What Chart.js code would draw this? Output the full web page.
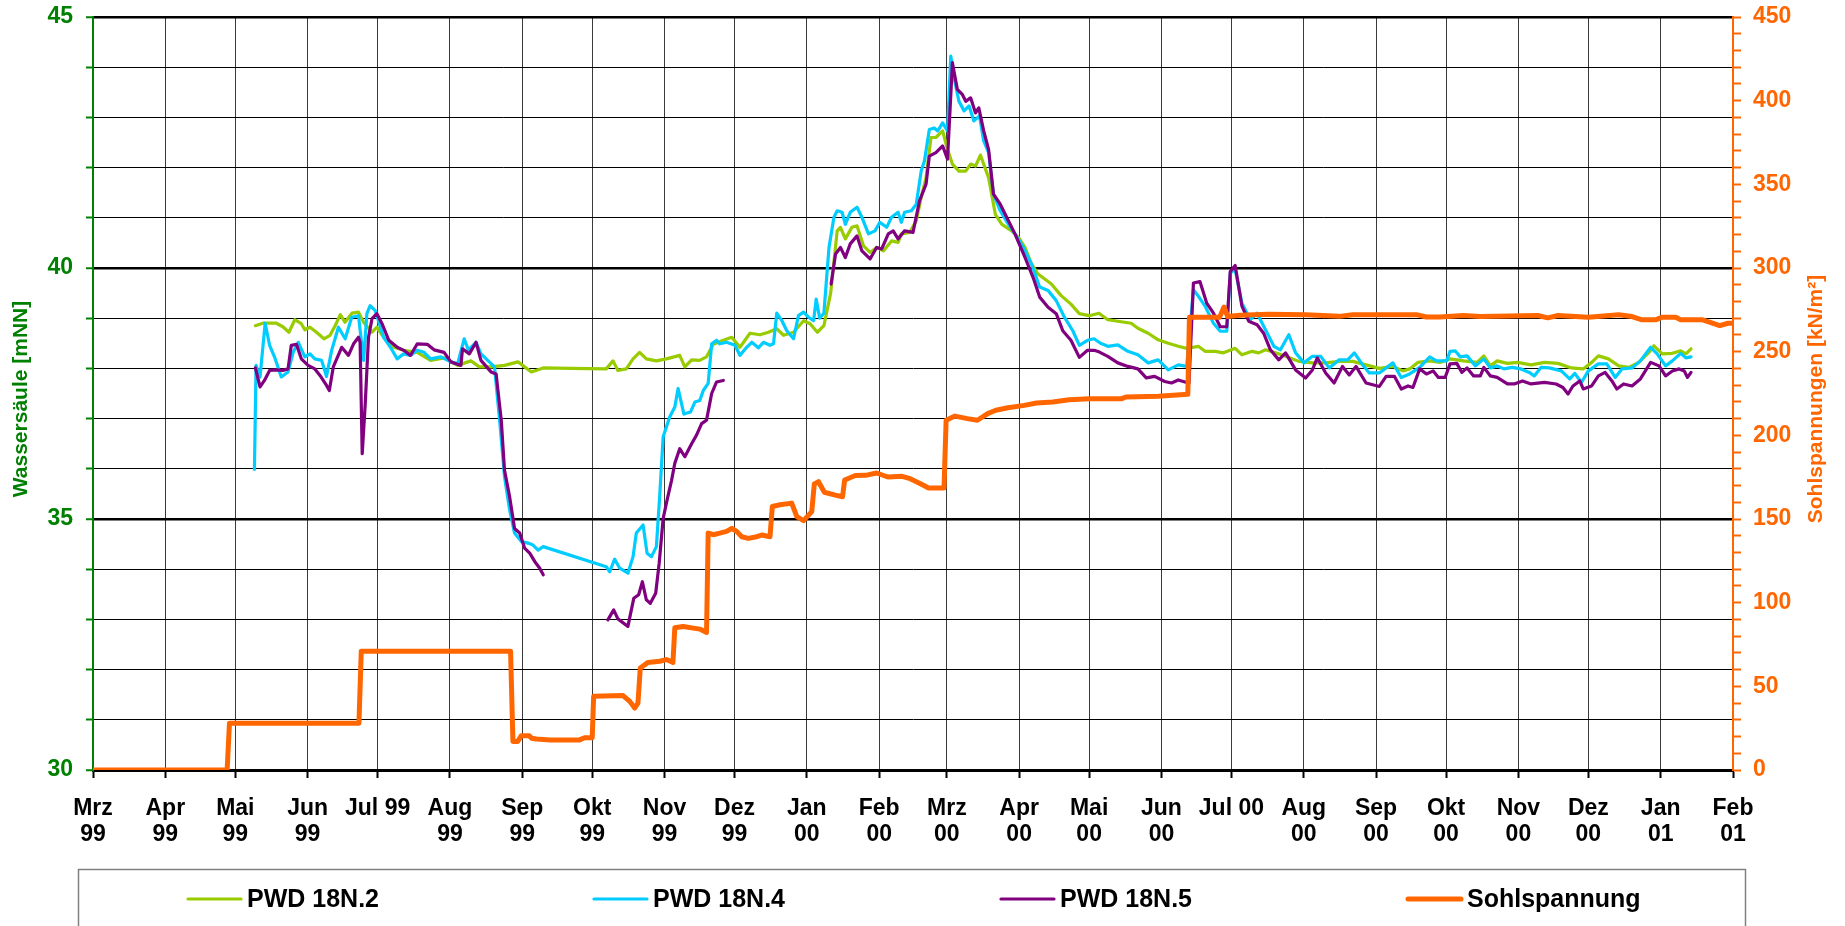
<!DOCTYPE html>
<html lang="de">
<head>
<meta charset="utf-8">
<title>PWD 18N – Wassersäule und Sohlspannung</title>
<script src="https://cdn.jsdelivr.net/npm/chart.js@4.4.1/dist/chart.umd.min.js"></script>
<style>
  html, body { margin:0; padding:0; background:#fff; }
  #wrap { width:1845px; height:926px; position:relative; }
</style>
</head>
<body>
<div id="wrap"><canvas id="chart"></canvas></div>
<script>
// x = Tage seit 1. März 1999
const monthStarts = [0,31,61,92,122,153,184,214,245,275,306,337,366,397,427,458,488,519,550,580,611,641,672,703];
const monthLabels = [['Mrz','99'],['Apr','99'],['Mai','99'],['Jun','99'],'Jul 99',['Aug','99'],['Sep','99'],['Okt','99'],
  ['Nov','99'],['Dez','99'],['Jan','00'],['Feb','00'],['Mrz','00'],['Apr','00'],['Mai','00'],['Jun','00'],'Jul 00',
  ['Aug','00'],['Sep','00'],['Okt','00'],['Nov','00'],['Dez','00'],['Jan','01'],['Feb','01']];

const seriesNames = ['PWD 18N.2', 'PWD 18N.4', 'PWD 18N.5', 'Sohlspannung'];
const leftTitle = 'Wassersäule [mNN]';
const rightTitle = 'Sohlspannungen [kN/m²]';

// [Tag, mNN]
const n2Data = [[69.6,38.85],[72.8,38.9],[78.6,38.9],[81.4,38.83],[84,38.72],[86.5,38.97],[89.3,38.89],[90.8,38.77],[93,38.82],
  [95.8,38.72],[99,38.59],[101.6,38.66],[103.8,38.85],[106,39.07],[108,38.92],[111,39.1],[113.8,39.12],[116,38.92],[119.6,38.72],
  [121.7,38.82],[124.6,38.62],[128.9,38.42],[133.2,38.36],[139,38.32],[144.7,38.16],[150.5,38.21],[156.3,38.06],[162,38.15],
  [165.6,38.03],[170.6,38.03],[176.4,38.06],[182.2,38.13],[187.9,37.93],[193,38.01],[205,38.0],[220,37.99],[222.9,38.15],
  [225,37.96],[228.6,37.99],[231.5,38.19],[234.3,38.32],[237.2,38.19],[241.5,38.15],[245.8,38.19],[251.5,38.26],[253.7,38.03],
  [256.6,38.17],[260,38.16],[263,38.23],[265.9,38.48],[270.2,38.56],[273.8,38.62],[277.3,38.42],[281.6,38.7],[285.9,38.67],
  [289.5,38.72],[293.1,38.79],[296,38.66],[300.3,38.72],[304.6,38.95],[307.4,38.89],[310.5,38.72],[313.3,38.85],[316.2,39.5],
  [319,40.74],[320.4,40.81],[322.5,40.58],[325.3,40.81],[327.5,40.84],[330.3,40.44],[333.1,40.31],[335.9,40.41],[338.8,40.34],
  [342.3,40.54],[345.1,40.51],[346.5,40.68],[350.1,40.71],[352.9,40.94],[355,41.4],[357.1,41.8],[359.2,42.6],[361.3,42.6],
  [364.2,42.73],[366.3,42.36],[368.4,42.07],[371.2,41.93],[374.1,41.93],[376.2,42.07],[378.3,42.03],[380.4,42.25],[381.8,42.07],
  [383.9,41.8],[386.8,41.07],[389.6,40.87],[393.8,40.74],[396.7,40.61],[399.5,40.41],[402.3,40.08],[405.1,39.88],[410.8,39.68],
  [415,39.45],[419.2,39.28],[422.8,39.09],[427,39.05],[431.2,39.1],[435,38.97],[439.3,38.94],[445,38.9],[447.9,38.8],[452.3,38.7],
  [456.6,38.57],[460.9,38.5],[465.2,38.44],[468.8,38.4],[473.8,38.44],[476.7,38.34],[481,38.34],[484.6,38.31],[489.6,38.4],
  [492.5,38.27],[496.8,38.34],[499.7,38.31],[502.6,38.37],[506.9,38.31],[511.2,38.24],[516.9,38.14],[522.7,38.11],[528.4,38.11],
  [534.2,38.14],[540,38.14],[545.7,38.07],[551.4,38.0],[557.2,38.04],[561.5,37.95],[564.4,37.99],[568,38.12],[573,38.15],
  [577.4,38.12],[581.7,38.19],[587.5,38.15],[593.3,38.12],[596.2,38.25],[599,38.05],[601.9,38.15],[606.3,38.1],[610.6,38.12],
  [616.4,38.07],[622.2,38.12],[628,38.1],[633.7,38.01],[638.8,37.99],[642.4,38.12],[645.3,38.25],[649.6,38.19],[654,38.05],
  [658.3,38.02],[662.6,38.12],[667,38.32],[669.1,38.45],[672.7,38.29],[677,38.3],[680.6,38.35],[682.8,38.29],[685,38.39]];

const n4Data = [[69.2,35.99],[69.9,38.06],[71.6,37.83],[73.8,38.9],[75.7,38.46],[77.8,38.23],[80.7,37.83],[83.6,37.93],[85.8,38.32],
  [88,38.52],[90.8,38.23],[93,38.29],[95.1,38.19],[98,38.16],[100.1,37.84],[102.3,38.36],[105.2,38.82],[108.1,38.59],[110.9,39.02],
  [113.8,39.05],[116,38.16],[117.4,39.09],[118.8,39.25],[121,39.15],[124.6,38.62],[127.5,38.42],[130.4,38.19],[133.2,38.29],
  [136.1,38.26],[139,38.36],[141.9,38.32],[144.7,38.19],[149.1,38.23],[153.4,38.13],[156.3,38.09],[159.1,38.59],[160.9,38.37],
  [164.2,38.52],[166.3,38.29],[169.2,38.16],[172.1,38.03],[174.3,36.97],[176.4,35.84],[178.6,35.18],[180.7,34.72],[183.6,34.55],
  [186.5,34.52],[188.6,34.48],[190.8,34.38],[193,34.45],[220,34.05],[221.5,33.95],[223.6,34.2],[225.8,34.02],[229.3,33.92],
  [231.5,34.25],[232.9,34.72],[235.8,34.88],[237.5,34.32],[239.4,34.25],[241.5,34.45],[242.9,35.44],[244.4,36.64],[247.2,37.03],
  [249.4,37.23],[250.8,37.6],[253.3,37.09],[256.1,37.13],[258,37.33],[260.1,37.36],[261.6,37.56],[263.7,37.7],[265.2,38.49],
  [267.3,38.56],[268.7,38.49],[271.6,38.52],[275.2,38.46],[277.3,38.26],[280.2,38.42],[282.4,38.52],[285.2,38.41],[287.4,38.52],
  [290.2,38.46],[291.7,38.49],[293.1,39.1],[295.3,38.95],[297.4,38.75],[300.3,38.59],[302.4,39.05],[304.6,39.12],[306.7,39.02],
  [308.9,38.95],[310,39.38],[311.5,39.0],[313.3,39.1],[315.5,40.41],[317.6,41.01],[319,41.14],[321.1,41.11],[322.5,40.87],
  [324.6,41.11],[327.5,41.21],[329.6,41.01],[332.4,40.68],[335.2,40.74],[337.3,40.91],[340.2,40.81],[342.3,41.01],[345.1,41.11],
  [346.5,40.91],[347.9,41.11],[350.8,41.14],[352.9,41.27],[355,41.93],[356.4,42.13],[358.5,42.76],[360.6,42.79],[362.1,42.73],
  [364.2,42.89],[366.3,42.73],[367.7,44.22],[369.1,43.79],[371.2,43.32],[373.4,43.13],[375.5,43.23],[377.6,42.93],[380,43.03],
  [381.8,42.53],[383.9,42.3],[386,41.47],[388.9,41.14],[392.4,40.87],[395.2,40.68],[398.8,40.41],[402.3,40.08],[405.8,39.62],
  [409.4,39.55],[412.9,39.35],[416.4,39.02],[420,38.75],[422.8,38.46],[426.3,38.56],[429.1,38.59],[431.9,38.5],[435,38.44],
  [439.3,38.47],[443.6,38.34],[447.9,38.27],[452.3,38.11],[456.6,38.17],[460.9,37.97],[465.2,38.07],[468.8,38.04],[471.7,39.57],
  [473.8,39.44],[476.7,39.24],[480.3,38.9],[483.2,38.74],[486,38.74],[487.5,39.9],[489.6,39.97],[492.5,39.3],[496.1,38.97],
  [499,39.1],[502.6,38.77],[506.2,38.44],[509,38.37],[512.6,38.67],[515.5,38.31],[519.1,38.11],[522.7,38.24],[526.3,38.24],
  [529.9,38.01],[534.2,38.17],[537.8,38.17],[540.7,38.31],[544.3,38.07],[547.1,37.91],[551.4,37.91],[557.2,38.11],[560.8,37.82],
  [564.4,37.89],[568.7,38.02],[573,38.23],[575.9,38.15],[580.3,38.15],[581.7,38.34],[583.9,38.35],[586.1,38.23],[589,38.25],
  [592.6,38.05],[596.2,38.19],[599,38.01],[601.9,38.05],[604.8,37.99],[608.4,38.02],[612.1,37.99],[615.7,37.92],[617.8,37.85],
  [620.7,38.02],[624.3,38.01],[629.4,37.95],[633,37.79],[635.2,37.9],[638,37.72],[641,37.95],[645.3,38.09],[648.9,38.09],
  [652.5,37.82],[655.4,37.99],[659.7,38.01],[663.3,38.15],[667.7,38.42],[670.5,38.29],[674.1,38.05],[677,38.15],[680.6,38.3],
  [682.8,38.21],[685,38.23]];

// Lücken (null) = keine Messwerte
const n5Data = [[69.6,38.01],[71.6,37.63],[73.5,37.76],[75.7,37.96],[78.6,37.97],[81.4,37.96],[83.6,37.99],[85,38.46],[87.2,38.48],
  [89.3,38.19],[92.2,38.06],[95.1,37.99],[97.3,37.86],[100.1,37.66],[101.3,37.56],[103,38.03],[106.6,38.42],[109.5,38.26],
  [111.7,38.49],[113.8,38.62],[114.5,38.52],[115.4,36.3],[116.7,37.3],[118.1,38.62],[119.6,38.99],[121.7,39.09],[123.9,38.89],
  [126.8,38.56],[130.4,38.42],[133.2,38.36],[136.1,38.26],[139,38.49],[143.3,38.48],[146.2,38.37],[150.5,38.32],[153.4,38.13],
  [157.7,38.06],[158.4,38.39],[161.3,38.29],[164.2,38.52],[166.3,38.16],[170.6,37.93],[172.8,37.89],[175,36.97],[176.4,35.97],
  [178.6,35.44],[180.7,34.81],[182.9,34.72],[185,34.42],[187.2,34.32],[189.4,34.15],[191.5,34.02],[193,33.89],[206,null],
  [220.7,32.99],[223.2,33.19],[225,33.01],[229.3,32.86],[231.8,33.42],[233.9,33.49],[235.5,33.75],[237.2,33.39],[238.9,33.32],
  [241.2,33.52],[242.7,34.12],[244.4,35.01],[246.1,35.38],[248,35.77],[249.4,36.11],[251.5,36.4],[253.7,36.24],[256.6,36.5],
  [258.7,36.67],[260.9,36.9],[263,36.97],[265.2,37.5],[267.3,37.73],[270.2,37.76],[290,null],
  [316.4,39.68],[318.3,40.28],[320.4,40.41],[322.5,40.21],[324.6,40.48],[327.5,40.64],[329.6,40.34],[333.1,40.18],[335.9,40.41],
  [338.1,40.38],[340.9,40.68],[343,40.74],[345.1,40.58],[347.9,40.74],[351.5,40.71],[354.3,41.34],[357.1,41.67],[358.5,42.23],
  [361.3,42.3],[364.2,42.43],[366.3,42.17],[368.4,44.09],[370.5,43.56],[372.6,43.46],[374.1,43.32],[376.2,43.39],[378.3,43.09],
  [379.7,43.19],[381.8,42.73],[383.9,42.36],[386,41.47],[388.9,41.27],[392.4,40.94],[395.2,40.68],[399.5,40.21],[403,39.81],
  [405.8,39.42],[409.4,39.22],[412.9,39.09],[415.7,38.75],[419.2,38.56],[422.8,38.22],[426.3,38.36],[429.1,38.36],[431.2,38.33],
  [435,38.24],[439.3,38.11],[443.6,38.04],[447.9,37.99],[451.5,37.81],[455.1,37.84],[459.4,37.74],[462.3,37.71],[465.2,37.77],
  [468.8,37.72],[469.8,37.7],[471.7,39.7],[474.5,39.73],[477.4,39.3],[480.3,39.1],[483.2,38.83],[486,38.83],[487.5,39.93],
  [489.6,40.05],[492.5,39.24],[495.4,38.94],[499,38.87],[501.8,38.7],[504.7,38.37],[508.3,38.17],[511.2,38.31],[515.5,37.97],
  [519.8,37.81],[522.7,37.97],[524.8,38.21],[528.4,37.91],[532,37.71],[535.6,38.04],[538.5,37.87],[541.4,38.04],[545.7,37.71],
  [551.4,37.64],[554.3,37.84],[557.9,37.84],[560.8,37.59],[563.7,37.65],[565.8,37.62],[568.7,37.99],[571.6,37.89],[574.5,37.95],
  [576.7,37.82],[579.6,37.82],[581.7,38.09],[584.6,38.1],[586.8,37.92],[589,38.01],[591.8,37.85],[594.7,37.85],[596.2,38.02],
  [599,37.85],[601.9,37.82],[606.3,37.69],[609.2,37.69],[612.8,37.75],[616.4,37.69],[622.2,37.72],[627.2,37.69],[630.1,37.62],
  [632.3,37.49],[634.4,37.65],[637.3,37.75],[638.8,37.59],[642.4,37.65],[645.3,37.85],[648.2,37.92],[651.1,37.75],[653.2,37.59],
  [656.1,37.69],[659.7,37.65],[663.3,37.79],[667.7,38.12],[671.3,38.05],[674.1,37.85],[677,37.95],[679.9,37.99],[682.1,37.95],
  [683.5,37.82],[685,37.92]];

// [Tag, kN/m²]
const sohlData = [[0,0],[57.5,0],[58.5,28],[114,28],[115,71],[179,71],[180,17],[182,17],[183.6,20.5],[187,20.5],[188,19],
  [190,18.5],[196,18],[208.6,18],[210.7,19.3],[214,19.3],[214.6,44],[227.2,44.5],[230.1,41],[232.2,37],[233.6,40],[234.6,61],
  [237.9,64.3],[242.9,65],[245.8,66],[248.6,64.3],[249.4,85],[253,85.8],[257.3,84.8],[260.1,84.2],[263,82.2],[263.7,141.6],
  [265.9,140.6],[268.7,141.6],[271.6,142.6],[273.8,144.4],[275.9,142.6],[278.1,139.4],[280.9,138.4],[284.5,139.4],[286.7,140.4],
  [290.2,139.4],[291.2,157.5],[294.5,158.5],[299.5,159.5],[301.7,151.4],[304.6,149],[308.1,154.4],[309.2,171],[311,172.3],
  [313.5,166],[318.2,164.3],[321.3,163.3],[322.2,173.3],[326.8,176],[331.2,176.1],[335.9,177.5],[340.7,175.1],[346.8,175.5],
  [350.3,174.1],[354.7,171.1],[358.2,168.5],[364.8,168.5],[365.7,209],[369.5,211.5],[374.8,210],[379.1,209],[383.5,213],
  [387,215],[392.2,216.5],[399.2,217.9],[404.4,219.3],[411.4,219.9],[418.4,221.3],[427.1,221.9],[441,221.9],[442.8,222.9],
  [456.7,223.3],[469.3,224.5],[470,270.5],[482.9,270.5],[484.8,276.7],[486.4,271],[491.6,271.7],[503.8,272.3],[519.8,272.1],
  [534.2,271.1],[540,272.1],[567.2,272.1],[571.6,270.7],[577.3,270.7],[587.5,271.6],[594.7,271],[619.3,271.6],[623.6,270.2],
  [628,271.6],[641,270.6],[654,272],[659.7,271],[664,269],[669.8,269],[672.7,270.6],[678.5,270.6],[680.6,269],[690,269],
  [692.9,267.6],[697.3,265.6],[700.9,267],[703,267]];

const FONT = '"Liberation Sans", Arial, Helvetica, sans-serif';
const GREEN_AXIS = '#008000';
const ORANGE = '#FF6600';
const toXY = arr => arr.map(([x, y]) => ({ x, y }));

// Achsentitel (beide von unten nach oben) und Legende mit Rahmen
const framePlugin = {
  id: 'frame',
  afterDraw(chart) {
    const { ctx } = chart;
    ctx.save();
    ctx.font = 'bold 21px ' + FONT;
    ctx.textAlign = 'center';
    ctx.textBaseline = 'middle';
    const cy = 399;
    [[21, GREEN_AXIS, leftTitle], [1816, ORANGE, rightTitle]].forEach(([x, col, txt]) => {
      ctx.save();
      ctx.translate(x, cy);
      ctx.rotate(-Math.PI / 2);
      ctx.fillStyle = col;
      ctx.fillText(txt, 0, 0);
      ctx.restore();
    });

    ctx.strokeStyle = '#808080';
    ctx.lineWidth = 1.5;
    ctx.strokeRect(78.5, 869.5, 1667, 80);

    const starts = [188, 594, 1001, 1408];
    const ly = 899;
    ctx.font = 'bold 25px ' + FONT;
    ctx.textAlign = 'left';
    chart.data.datasets.forEach((ds, i) => {
      const x0 = starts[i];
      ctx.strokeStyle = ds.borderColor;
      ctx.lineWidth = ds.borderWidth;
      ctx.lineCap = 'round';
      ctx.beginPath();
      ctx.moveTo(x0, ly);
      ctx.lineTo(x0 + 53, ly);
      ctx.stroke();
      ctx.fillStyle = '#000';
      ctx.fillText(ds.label, x0 + 59, ly + 1);
    });
    ctx.restore();
  }
};

const lineDs = (label, data, color, width, order, axis) => ({
  label, data: toXY(data), borderColor: color, backgroundColor: color,
  borderWidth: width, pointRadius: 0, tension: 0, spanGaps: false,
  borderJoinStyle: 'round', borderCapStyle: 'round', yAxisID: axis, order
});

const noPad = s => { s.paddingTop = 0; s.paddingBottom = 0; };

new Chart(document.getElementById('chart'), {
  type: 'line',
  data: {
    datasets: [
      lineDs(seriesNames[0], n2Data, '#99CC00', 3.2, 3, 'y'),
      lineDs(seriesNames[1], n4Data, '#00CCFF', 3.2, 2, 'y'),
      lineDs(seriesNames[2], n5Data, '#800080', 3.2, 1, 'y'),
      lineDs(seriesNames[3], sohlData, ORANGE, 5, 0, 'y1')
    ]
  },
  options: {
    responsive: true,
    maintainAspectRatio: false,
    animation: false,
    events: [],
    layout: { padding: { top: 17, left: 0, right: 0, bottom: 0 } },
    plugins: { legend: { display: false }, tooltip: { enabled: false } },
    scales: {
      x: {
        type: 'linear', min: 0, max: 703,
        afterBuildTicks: s => { s.ticks = monthStarts.map(v => ({ value: v })); },
        afterFit: s => { s.height = 156; },
        grid: {
          color: c => (c.index === 0 || c.index === monthStarts.length - 1) ? 'rgba(0,0,0,0)' : '#3a3a3a',
          lineWidth: 1, tickColor: '#000', tickLength: 8, tickWidth: 2
        },
        border: { color: '#000', width: 3 },
        ticks: {
          autoSkip: false, maxRotation: 0, padding: 18, color: '#000',
          font: { family: FONT, size: 23, weight: 'bold', lineHeight: 1.13 },
          callback: (v, i) => monthLabels[i]
        }
      },
      y: {
        position: 'left', min: 30, max: 45,
        afterFit: s => { s.width = 93; noPad(s); },
        grid: {
          color: c => c.tick.value === 30 ? 'rgba(0,0,0,0)' : '#000',
          lineWidth: c => (c.tick.value % 5 === 0) ? 2.5 : 1,
          tickColor: GREEN_AXIS, tickLength: 7, tickWidth: 2
        },
        border: { color: GREEN_AXIS, width: 2 },
        ticks: {
          stepSize: 1, autoSkip: false, padding: 13, color: GREEN_AXIS,
          font: { family: FONT, size: 23, weight: 'bold' },
          callback: v => (v % 5 === 0 ? v : '')
        }
      },
      y1: {
        position: 'right', min: 0, max: 450,
        afterFit: s => { s.width = 112; noPad(s); },
        grid: { drawOnChartArea: false, tickColor: ORANGE, tickLength: 8, tickWidth: 2 },
        border: { color: ORANGE, width: 2 },
        ticks: {
          stepSize: 10, maxTicksLimit: 100, autoSkip: false, padding: 12, color: ORANGE,
          font: { family: FONT, size: 23, weight: 'bold' },
          callback: v => (v % 50 === 0 ? v : '')
        }
      }
    }
  },
  plugins: [framePlugin]
});
</script>
</body>
</html>
